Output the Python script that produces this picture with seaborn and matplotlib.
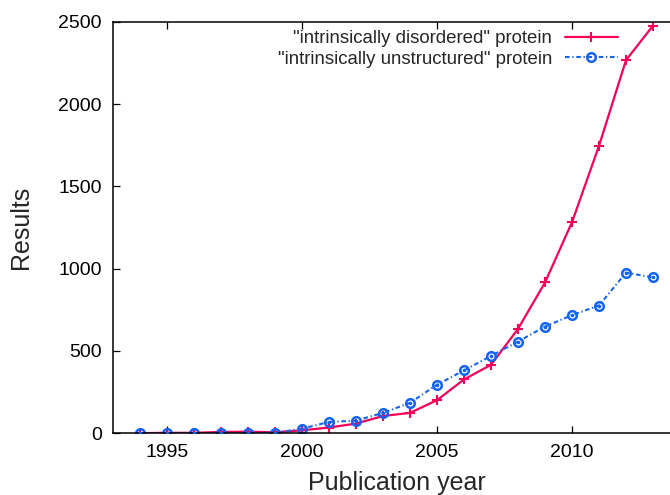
import matplotlib
matplotlib.use("Agg")
import matplotlib.pyplot as plt
import seaborn as sns
import pandas as pd

# Publication counts per year for the two search phrases
years = list(range(1994, 2014))
disordered = [1, 3, 3, 8, 10, 6, 18, 35, 59, 105, 124, 201, 327, 416,
              634, 916, 1282, 1746, 2266, 2476]
unstructured = [0, 0, 0, 0, 2, 3, 28, 69, 77, 124, 185, 295, 382, 470,
                557, 648, 718, 776, 976, 947]
labels = ['"intrinsically disordered" protein',
          '"intrinsically unstructured" protein']
x_ticks = [1995, 2000, 2005, 2010]
y_ticks = [0, 500, 1000, 1500, 2000, 2500]

sns.set_style("white")
plt.rcParams["font.family"] = ["Liberation Sans", "DejaVu Sans"]

df = pd.DataFrame({"year": years, "dis": disordered, "uns": unstructured})

fig = plt.figure(figsize=(6.7, 4.95), dpi=100)
ax = fig.add_axes([113 / 670, 1 - 433.3 / 495, 567 / 670, (433.3 - 21.7) / 495])

red = "#f5005a"
blue = "#1464f4"

sns.lineplot(data=df, x="year", y="dis", ax=ax, color=red, linewidth=1.6,
             linestyle="-", marker="+", markersize=6.5, markeredgewidth=1.5,
             markeredgecolor=red, label=labels[0])

sns.lineplot(data=df, x="year", y="uns", ax=ax, color=blue, linewidth=1.5,
             linestyle=(0, (2.2, 1.3, 0.6, 1.3)), marker="o", markersize=6.2,
             markerfacecolor="none", markeredgecolor=blue,
             markeredgewidth=1.8, label=labels[1])
ax.scatter(df["year"], df["uns"], s=2.5, color=blue, zorder=5)

ax.set_xlim(1993, 2014)
ax.set_ylim(0, 2500)
ax.set_xticks(x_ticks)
ax.set_yticks(y_ticks)
ax.tick_params(direction="in", length=5, width=0.9, colors="black",
               labelsize=14, top=True, right=True, bottom=True, left=True)
ax.tick_params(axis="x", pad=8)
ax.tick_params(axis="y", pad=8)

for s in ax.spines.values():
    s.set_visible(True)
    s.set_color("black")
    s.set_linewidth(1.1)

ax.set_xlabel("Publication year", fontsize=18, labelpad=7)
ax.set_ylabel("Results", fontsize=18, labelpad=18)

leg = ax.legend(loc="upper right", bbox_to_anchor=(618 / 670, 1 - 30 / 495),
                bbox_transform=fig.transFigure, frameon=False,
                markerfirst=False, fontsize=13.4, handlelength=2.85,
                handletextpad=0.7, labelspacing=0.2, borderpad=0,
                borderaxespad=0)

fig.savefig("out.png", dpi=100)
